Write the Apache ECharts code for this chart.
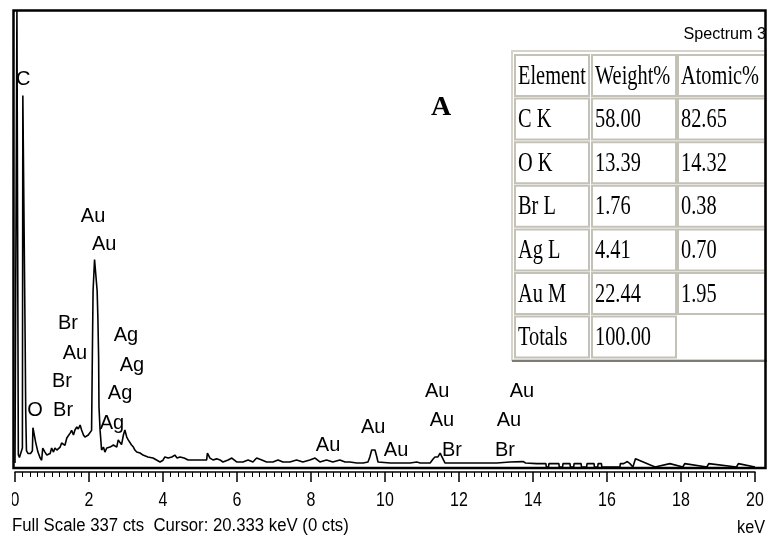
<!DOCTYPE html>
<html><head><meta charset="utf-8">
<script src="https://cdn.jsdelivr.net/npm/echarts@6.0.0/dist/echarts.min.js"></script>
<style>html,body{margin:0;padding:0;background:#fff}#c{width:768px;height:545px}</style>
</head><body><div id="c"></div>
<script>
// ---- spectrum (keV, counts) ----
const energy = [0.00,0.045,0.052,0.078,0.09,0.12,0.17,0.20,0.212,0.262,0.275,0.29,0.31,0.35,0.42,0.47,0.485,0.53,0.56,0.62,0.68,0.72,0.75,0.81,0.86,0.95,0.99,1.04,1.08,1.13,1.22,1.26,1.31,1.35,1.40,1.44,1.49,1.53,1.58,1.62,1.67,1.71,1.76,1.80,1.85,1.89,1.98,2.03,2.07,2.09,2.11,2.15,2.20,2.22,2.24,2.26,2.27,2.30,2.34,2.39,2.43,2.48,2.52,2.57,2.61,2.66,2.75,2.79,2.84,2.88,2.93,2.97,3.02,3.06,3.11,3.15,3.20,3.24,3.29,3.38,3.46,3.59,3.73,3.92,4.00,4.05,4.14,4.24,4.32,4.38,4.46,4.57,4.68,4.81,5.05,5.18,5.20,5.27,5.35,5.45,5.54,5.62,5.76,5.86,5.99,6.16,6.30,6.43,6.53,6.67,6.80,6.97,7.11,7.24,7.43,7.61,7.78,7.97,8.11,8.24,8.42,8.59,8.78,8.92,9.05,9.24,9.41,9.54,9.59,9.64,9.73,9.78,9.81,9.86,10.14,10.49,10.68,10.86,10.95,11.22,11.30,11.35,11.40,11.43,11.49,11.53,11.57,11.62,11.94,12.30,12.65,13.02,13.38,13.73,13.80,14.10,14.35,14.36,14.42,14.43,14.70,14.71,14.80,14.81,15.00,15.01,15.10,15.11,15.30,15.31,15.45,15.46,15.65,15.66,15.75,15.76,15.85,15.86,16.35,16.36,16.45,16.55,16.56,16.62,16.63,16.70,16.71,16.77,16.78,17.30,17.31,17.70,17.71,18.05,18.06,18.10,18.11,18.70,18.71,18.75,18.76,19.50,19.51,19.55,19.56,20.00];
const counts = [3,3,337,337,9,7,8,14,274,274,91,40,12,10,10,12,29,30,18,11,6.6,5,14,11,8.8,10,14,11,14,12.5,14.7,17.7,19,16,21.4,20,25,27,23.6,27.3,29.5,28,31,27.3,23.6,22,23.6,25,27,81,130,153,153,130,110,81,44,27,12.5,14.7,11,14,13,14.7,14,16.2,14.7,20,18,16.5,23.6,27.3,22,20,21.4,16.2,14.7,12.5,11,10.3,8.8,7.4,6.6,3.7,5,7.4,6.6,7.4,8.8,6.6,7.4,6.6,5.2,5.2,5.2,5.2,10.3,6.6,5.2,6,5.2,3.7,5.2,6.6,3.7,3.7,5.2,3.7,6.6,5.2,3.7,3.7,5.2,3.7,3.7,5.2,3.7,5.2,6.6,3.7,5.2,3.7,5.2,3.7,3.7,3,3,3.7,7.4,12.5,12.5,7.4,3.7,3,3,3,3,3.7,3,3,5.9,7.4,8.8,7.4,10.3,8,6.6,3,3,3,3,3,3.7,4,3,2.5,2.5,0,0,2.5,2.5,0,0,2.5,2.5,0,0,2.5,2.5,0,0,2.5,2.5,0,0,2.5,2.5,0,0,2.5,2.5,4,4,2.5,2.5,0,0,6,6,0,0,2.5,2.5,0,0,2.5,2.5,0,0,2.5,2.5,0,0,2.5,2.5,0,0];

// ---- peak annotations (keV, counts) ----
const peakNames = ['C','O','Br','Au','Br','Br','Au','Au','Ag','Ag','Ag','Ag','Au','Au','Au','Au','Au','Br','Au','Au','Br'];
const peakKeV   = [0.22,0.54,1.43,1.62,1.27,1.30,2.11,2.41,3.00,3.16,2.84,2.62,8.46,9.68,10.30,11.41,11.54,11.81,13.70,13.35,13.24];
const peakCts   = [286,42,106,84,63,42,185,164,97,75,54,32,16,29,12.5,56,34,12.5,56,34,12.5];

// ---- axis ----
const xMin = 0, xMax = 20, xStep = 2, fullScale = 337;

// ---- quantification table ----
const tableHeader = ['Element','Weight%','Atomic%'];
const elements = ['C K','O K','Br L','Ag L','Au M','Totals'];
const weights  = ['58.00','13.39','1.76','4.41','22.44','100.00'];
const atomics  = ['82.65','14.32','0.38','0.70','1.95',''];

const title = 'Spectrum 3';
const panelLetter = 'A';
const footer = 'Full Scale 337 cts  Cursor: 20.333 keV (0 cts)';
const unit = 'keV';

const sans = '"Liberation Sans",Arial,sans-serif';
const serif = '"Liberation Serif","Times New Roman",serif';

const chart = echarts.init(document.getElementById('c'), null, {renderer:'canvas'});

const lineData = energy.map((e,i)=>[e,counts[i]]);
const peakData = peakNames.map((n,i)=>({name:n, value:[peakKeV[i], peakCts[i]]}));

function txt(x, y, text, font, align, sx, sy, z){
  return {type:'text', x:x, y:y, scaleX:sx||1, scaleY:sy||1, z:z||8,
    style:{text:text, font:font, fill:'#000', textAlign:align, textVerticalAlign:'middle', align:align, verticalAlign:'middle'}};
}

// table graphic
const tbl = [];
const colX = [515, 592, 678], colW = [74, 84, 87];
const rowTop = 55, rowPitch = 43.6, rowH = 41;
tbl.push({type:'rect', shape:{x:512, y:51, width:254, height:309}, style:{fill:'#fff', stroke:'#d6d3ca', lineWidth:2}, z:5});
tbl.push({type:'line', shape:{x1:512, y1:361, x2:767, y2:361}, style:{stroke:'#7d7b75', lineWidth:2}, z:6});
const rows = [tableHeader].concat(elements.map((e,i)=>[e, weights[i], atomics[i]]));
rows.forEach((r,ri)=>{
  r.forEach((t,ci)=>{
    if (ri === rows.length-1 && ci === 2) return;
    const y = rowTop + ri*rowPitch;
    tbl.push({type:'rect', shape:{x:colX[ci], y:y, width:colW[ci], height:rowH}, style:{fill:'#fff', stroke:'#c4c1b6', lineWidth:2}, z:6});
    tbl.push(txt(colX[ci]+3, y+rowH/2+1, t, '21px '+serif, 'left', 0.97, 1.27, 7));
  });
});

const option = {
  animation:false,
  backgroundColor:'#fff',
  grid:{left:15, right:13, top:10, bottom:78, containLabel:false},
  xAxis:{type:'value', min:xMin, max:xMax, interval:xStep, offset:5,
    axisLine:{show:true, onZero:false, lineStyle:{color:'#000', width:1.5}},
    axisTick:{show:true, length:10, lineStyle:{color:'#000', width:1.5}},
    minorTick:{show:true, splitNumber:10, length:5, lineStyle:{color:'#000', width:1}},
    axisLabel:{show:false},
    splitLine:{show:false}},
  yAxis:{type:'value', min:0, max:fullScale, show:false},
  series:[
    {type:'line', data:lineData, symbol:'none', clip:true, lineStyle:{color:'#000', width:1.6}, z:3},
    {type:'scatter', data:peakData, symbolSize:0, z:4, itemStyle:{opacity:1},
      label:{show:true, position:'inside', formatter:'{b}', color:'#000', opacity:1, fontSize:20, fontFamily:sans}}
  ]
};
chart.setOption(option);

// tick labels placed through the axis scale, drawn narrow like the original
const tickLabels = [];
for (let v = xMin; v <= xMax; v += xStep) {
  const px = chart.convertToPixel({xAxisIndex:0}, v);
  tickLabels.push(txt(px, 500, String(v), '20px '+sans, 'center', 0.8, 1.05, 8));
}

chart.setOption({
  graphic:[
    {type:'rect', shape:{x:13.5, y:10.5, width:752, height:457.5}, style:{fill:null, stroke:'#000', lineWidth:2.5}, z:10},
    txt(766, 34, title, '17px '+sans, 'right', 0.95, 1.0),
    txt(441, 108, panelLetter, 'bold 28px '+serif, 'center', 1, 1),
    txt(12, 526, footer, '18px '+sans, 'left', 0.93, 1.0),
    txt(765, 528, unit, '18px '+sans, 'right', 0.9, 1.05)
  ].concat(tickLabels).concat([
    {type:'rect', shape:{x:0, y:480, width:12, height:40}, style:{fill:'#fff'}, z:100}
  ]).concat(tbl)
});
</script>
</body></html>
